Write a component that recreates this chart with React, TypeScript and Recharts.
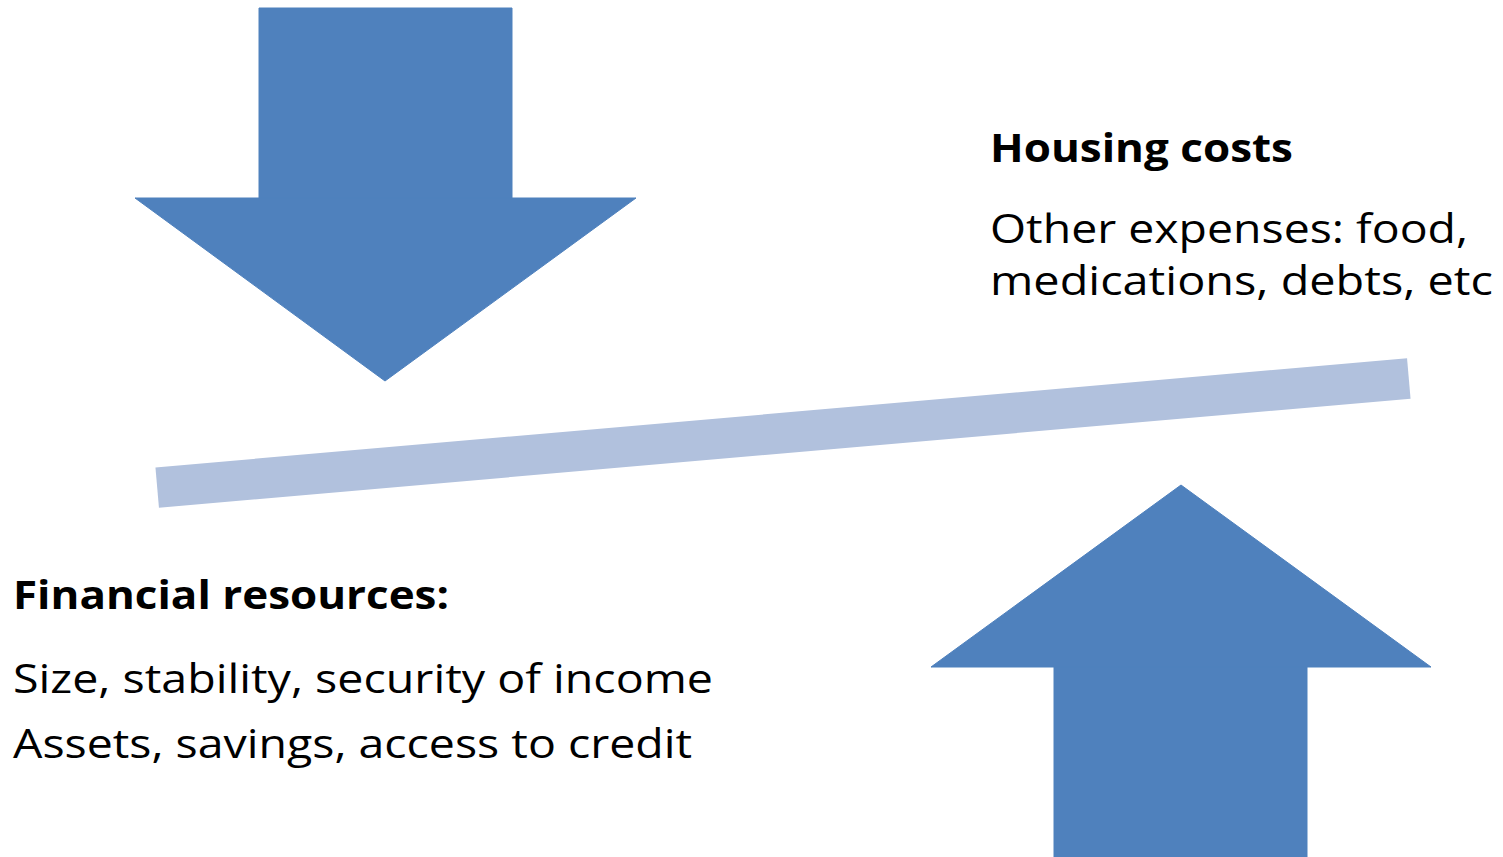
import React from "react";
import {
  ComposedChart,
  XAxis,
  YAxis,
  Area,
  Scatter,
  ReferenceArea,
  ReferenceLine,
} from "recharts";

// canvas coordinates (y grows downward, axis is reversed)
const downHead = [
  { x: 135, span: [198, 198] },
  { x: 385, span: [198, 381] },
  { x: 636, span: [198, 198] },
];
const downShaft = { x1: 259, x2: 512, y1: 8, y2: 198 };

const upHead = [
  { x: 931, span: [667, 667] },
  { x: 1181, span: [485, 667] },
  { x: 1431, span: [667, 667] },
];
const upShaft = { x1: 1054, x2: 1307, y1: 667, y2: 857 };

const beam = [
  { x: 157.2, y: 487.6 },
  { x: 1408.8, y: 378.5 },
];

const notes = [
  { x: 990, y: 162, text: "Housing costs", bold: true, width: 303 },
  { x: 990, y: 243, text: "Other expenses: food,", bold: false, width: 478 },
  { x: 990, y: 295, text: "medications, debts, etc", bold: false, width: 503 },
  { x: 13, y: 609, text: "Financial resources:", bold: true, width: 436 },
  { x: 13, y: 693, text: "Size, stability, security of income", bold: false, width: 700 },
  { x: 13, y: 758, text: "Assets, savings, access to credit", bold: false, width: 679 },
];

const ARROW = "#4f81bd";
const BEAM = "#b1c1dd";

const renderNote = (props: any) => {
  const p = props.payload;
  return (
    <text
      x={props.cx}
      y={props.cy}
      fontFamily="'Open Sans', 'Noto Sans', sans-serif"
      fontSize={p.bold ? 40 : 39.5}
      fontWeight={p.bold ? 700 : 400}
      textLength={p.width}
      lengthAdjust="spacingAndGlyphs"
      fill="#000"
    >
      {p.text}
    </text>
  );
};

export default function App() {
  return (
    <div style={{ position: "absolute", left: 0, top: 0, width: 1503, height: 857, background: "#fff" }}>
      <ComposedChart width={1503} height={857} margin={{ top: 0, right: 0, bottom: 0, left: 0 }}>
        <XAxis type="number" dataKey="x" domain={[0, 1503]} allowDataOverflow hide />
        <YAxis type="number" dataKey="y" domain={[0, 857]} allowDataOverflow reversed hide />
        <ReferenceArea {...downShaft} fill={ARROW} fillOpacity={1} stroke={ARROW} strokeWidth={1} />
        <Area
          data={downHead}
          dataKey="span"
          type="linear"
          fill={ARROW}
          fillOpacity={1}
          stroke={ARROW}
          strokeWidth={1}
          dot={false}
          activeDot={false}
          isAnimationActive={false}
        />
        <ReferenceArea {...upShaft} fill={ARROW} fillOpacity={1} stroke={ARROW} strokeWidth={1} />
        <Area
          data={upHead}
          dataKey="span"
          type="linear"
          fill={ARROW}
          fillOpacity={1}
          stroke={ARROW}
          strokeWidth={1}
          dot={false}
          activeDot={false}
          isAnimationActive={false}
        />
        <ReferenceLine segment={beam} stroke={BEAM} strokeWidth={40.5} ifOverflow="visible" />
        <Scatter data={notes} shape={renderNote} isAnimationActive={false} />
      </ComposedChart>
    </div>
  );
}
